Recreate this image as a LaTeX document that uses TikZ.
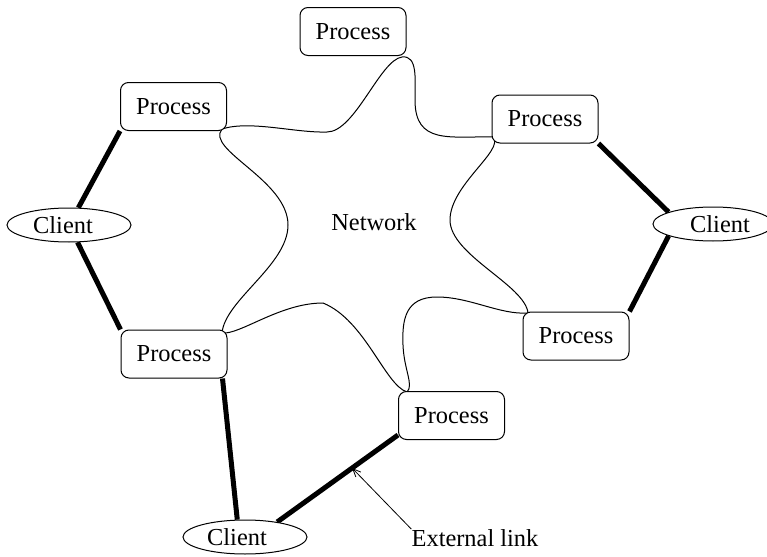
\documentclass[tikz,border=0pt]{standalone}
\usepackage{fontspec}
\setmainfont{Liberation Serif}
\usetikzlibrary{shapes.geometric,arrows.meta,calc}
\pgfdeclarelayer{bg}
\pgfsetlayers{bg,main}
\begin{document}
\begin{tikzpicture}[x=0.5pt,y=-0.5pt,
  txt/.style={font=\fontsize{12.2}{14}\selectfont},
  proc/.style={txt, draw, line width=0.5pt, rounded corners=4pt, fill=white,
    minimum width=53pt, minimum height=24pt, inner sep=0pt},
  client/.style={txt, draw, ellipse, line width=0.5pt, fill=white,
    minimum width=62pt, minimum height=17pt, inner sep=0pt},
  link/.style={line width=2.5pt},
  cloud/.style={line width=0.5pt},
  pointer/.style={line width=0.4pt, -{Straight Barb[length=4pt,width=3.5pt]}}]
\useasboundingbox (0,0) rectangle (767,557);

% processes
\node[proc] (PT)  at (353,31.5)  {Process};
\node[proc] (PLT) at (173.5,106.5) {Process};
\node[proc] (PRT) at (545,119)   {Process};
\node[proc] (PRB) at (576,336)   {Process};
\node[proc] (PB)  at (451.5,415.5) {Process};
\node[proc] (PLB) at (174,354)   {Process};

% clients
\node[client] (CL) at (69,225) {\hspace*{-6pt}Client};
\node[client, minimum width=60pt] (CR) at (713,224) {\hspace*{7pt}Client};
\node[client] (CB) at (245,537) {\hspace*{-8pt}Client};

% labels
\node[txt] (NET) at (374,222) {Network};
\node[txt, inner sep=0pt] (EL) at (475,538) {External link};

\begin{pgfonlayer}{bg}
  % network cloud
  \draw[cloud] (222,129) .. controls (250,120) and (295,133) .. (327,132)
    .. controls (355,132) and (380,60) .. (402,57)
    .. controls (418,55) and (415,80) .. (415,100)
    .. controls (415,145) and (450,136) .. (493,137)
    .. controls (505,150) and (450,185) .. (450,220)
    .. controls (450,255) and (525,285) .. (528,313)
    .. controls (500,315) and (470,297) .. (437,297)
    .. controls (405,297) and (402,320) .. (403,345)
    .. controls (404,370) and (414,385) .. (407,392)
    .. controls (385,385) and (365,320) .. (323,303)
    .. controls (280,303) and (240,335) .. (222,333)
    .. controls (225,300) and (288,265) .. (288,225)
    .. controls (288,180) and (205,150) .. (222,129);

  % thick links
  \draw[link] (PLT.south west) -- (CL);
  \draw[link] (CL) -- (PLB.north west);
  \draw[link] (PRT.south east) -- (CR.165);
  \draw[link] (CR.195) -- (PRB.north east);
  \draw[link] ($(PLB.south east)+(-5,0)$) -- (CB.114);
  \draw[link] (CB.25) -- coordinate[pos=0.62] (lk) ($(PB.south west)+(0,-5)$);
\end{pgfonlayer}

\draw[pointer] (EL.north west) -- (lk);
\end{tikzpicture}
\end{document}
